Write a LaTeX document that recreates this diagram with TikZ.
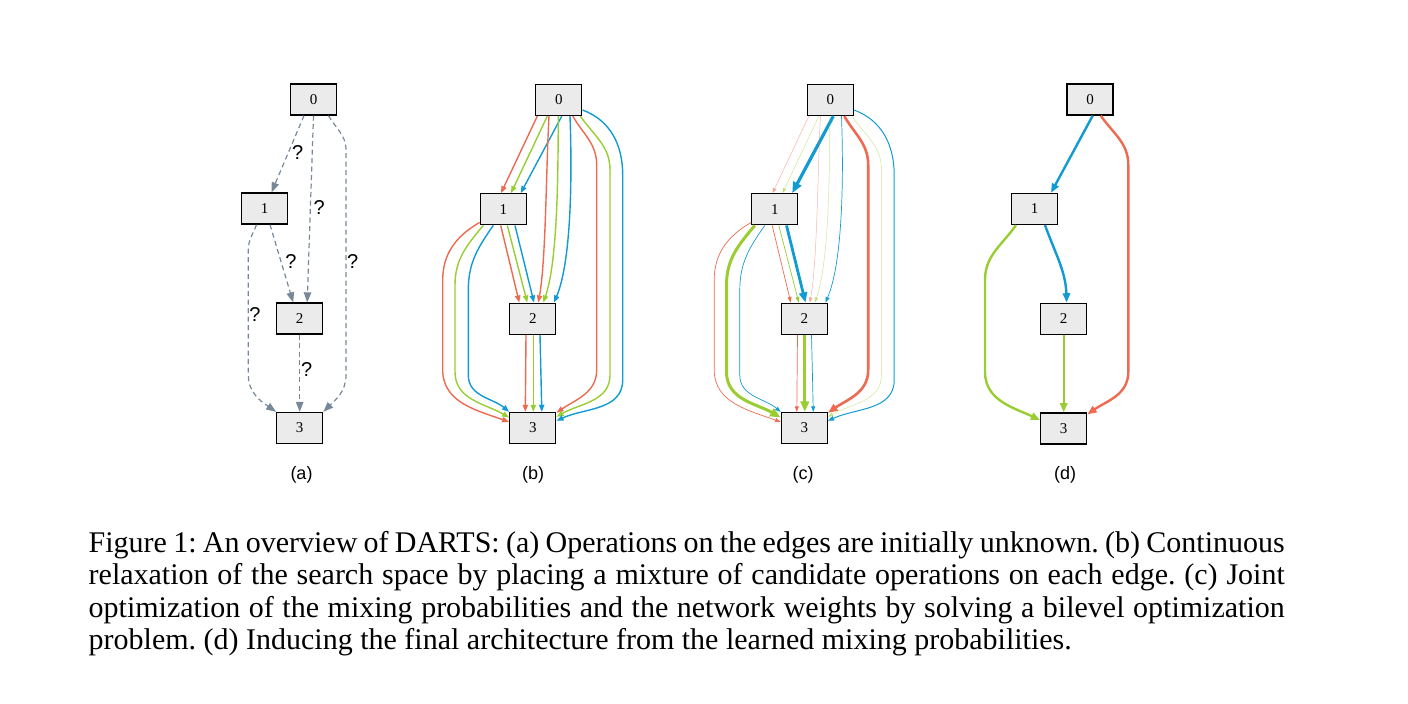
\documentclass[tikz,border=0pt]{standalone}
\usepackage{fontspec}
\setmainfont{Liberation Serif}
\setsansfont{Liberation Sans}
\usepackage{tikz}
\usetikzlibrary{arrows.meta}
\definecolor{opred}{HTML}{EE6A50}
\definecolor{opgreen}{HTML}{9ACD32}
\definecolor{opblue}{HTML}{119BD2}
\definecolor{edgegray}{HTML}{778899}
\definecolor{nodegray}{HTML}{EBEBEB}

\begin{document}
\frenchspacing
\begin{tikzpicture}[x=1pt, y=-1pt,
    box/.style={draw, line width=1.3pt, fill=nodegray, minimum width=46pt, minimum height=31pt, inner sep=0pt, font=\fontsize{15}{16}\selectfont},
    unknown/.style={edgegray, line width=1.2pt, dash pattern=on 5pt off 3.5pt, -{Triangle[length=10pt, width=7.5pt]}},
    mixed/.style={line width=1.4pt, -{Triangle[length=4pt 2.2, width=2.6pt 1.95]}},
    chosen/.style={line width=2.4pt, -{Triangle[length=4pt 2.2, width=2.6pt 1.95]}},
    faint/.style={line width=0.5pt, opacity=0.5},
    weak/.style={line width=0.7pt},
    strong/.style={line width=3pt},
    qmark/.style={font=\sffamily\fontsize{20}{20}\selectfont, inner sep=0pt},
    panel/.style={font=\sffamily\fontsize{18}{20}\selectfont, inner sep=0pt}]
\useasboundingbox (0,0) rectangle (1408,704);

% (a) unknown operations
\node[box] (a0) at (313.5,99.5) {0};
\node[box] (a1) at (264.5,208.5) {1};
\node[box] (a2) at (299.7,318.5) {2};
\node[box] (a3) at (299.7,428) {3};

\draw[unknown] ([xshift=-9.5pt]a0.south) -- ([xshift=7pt]a1.north);
\draw[unknown] (a0.south) -- ([xshift=7.5pt]a2.north);
\draw[unknown] ([xshift=15pt]a0.south) to[out=-60,in=90] (346,150) -- (346,375) to[out=-90,in=45] (a3.north east);
\draw[unknown] ([xshift=5.5pt]a1.south) -- ([xshift=-6.5pt]a2.north);
\draw[unknown] ([xshift=-8pt]a1.south) to[out=-110,in=90] (248.3,250) -- (248.3,375) to[out=-90,in=145] (a3.north west);
\draw[unknown] (a2.south) -- (a3.north);

\node[qmark] (q01) at (297.7,153) {?};
\node[qmark] (q02) at (319.3,207.7) {?};
\node[qmark] (q03) at (352.7,261.7) {?};
\node[qmark] (q12) at (291,262) {?};
\node[qmark] (q13) at (255,315) {?};
\node[qmark] (q23) at (306.7,370) {?};

% (b) mixture of candidate operations
\node[box] (b0) at (558.8,100) {0};
\node[box] (b1) at (503.3,209.3) {1};
\node[box] (b2) at (532.8,318.7) {2};
\node[box] (b3) at (532.8,428) {3};

\draw[mixed, opred] ([xshift=-21.5pt]b0.south) -- ([xshift=-2.3pt]b1.north);
\draw[mixed, opgreen] ([xshift=-11.5pt]b0.south) -- ([xshift=7.7pt]b1.north);
\draw[mixed, opblue] ([xshift=3pt]b0.south) -- ([xshift=17.4pt]b1.north);
\draw[mixed, opred] ([xshift=-9.8pt]b0.south) .. controls (546,170) and (546,260) .. ([xshift=5.5pt]b2.north);
\draw[mixed, opgreen] ([xshift=-0.5pt]b0.south) .. controls (558,170) and (558,260) .. ([xshift=10.5pt]b2.north);
\draw[mixed, opblue] ([xshift=11.2pt]b0.south) .. controls (572,170) and (572,260) .. ([xshift=21.2pt]b2.north);
\draw[mixed, opred] ([xshift=14pt]b0.south) to[out=-60,in=90] (596.7,165) -- (596.7,370) to[out=-90,in=35] ([yshift=-1pt]b3.north east);
\draw[mixed, opgreen] ([xshift=21.5pt]b0.south) to[out=-55,in=90] (610,170) -- (610,375) to[out=-90,in=30] ([yshift=-5pt]b3.north east);
\draw[mixed, opblue] ([yshift=-10pt]b0.east) to[out=-20,in=90] (622.7,175) -- (622.7,380) to[out=-90,in=25] ([yshift=-9pt]b3.north east);
\draw[mixed, opred] ([xshift=-2.6pt]b1.south) -- ([xshift=-13.5pt]b2.north);
\draw[mixed, opgreen] ([xshift=4pt]b1.south) -- ([xshift=-5.5pt]b2.north);
\draw[mixed, opblue] ([xshift=11.7pt]b1.south) -- ([xshift=1.2pt]b2.north);
\draw[mixed, opred] ([yshift=3pt]b1.south west) to[out=-150,in=90] (442.7,280) -- (442.7,370) to[out=-90,in=160] ([yshift=6pt]b3.west);
\draw[mixed, opgreen] ([xshift=-20pt]b1.south) to[out=-130,in=90] (455,285) -- (455,372) to[out=-90,in=150] ([yshift=10.5pt]b3.west);
\draw[mixed, opblue] ([xshift=-10pt]b1.south) to[out=-125,in=90] (468.3,290) -- (468.3,375) to[out=-90,in=140] (b3.north west);
\draw[mixed, opred] ([xshift=-6.8pt]b2.south) -- ([xshift=-7.5pt]b3.north);
\draw[mixed, opgreen] ([xshift=0.5pt]b2.south) -- ([xshift=0.5pt]b3.north);
\draw[mixed, opblue] ([xshift=7.2pt]b2.south) -- ([xshift=9pt]b3.north);

% (c) weighted mixture, same layout as (b)
\begin{scope}[shift={(271.5,0)}]
\node[box] (c0) at (558.8,100) {0};
\node[box] (c1) at (503.3,209.3) {1};
\node[box] (c2) at (532.8,318.7) {2};
\node[box] (c3) at (532.8,428) {3};

\draw[mixed, faint, opred] ([xshift=-21.5pt]c0.south) -- ([xshift=-2.3pt]c1.north);
\draw[mixed, faint, opgreen] ([xshift=-11.5pt]c0.south) -- ([xshift=7.7pt]c1.north);
\draw[mixed, line width=3.2pt, opblue] ([xshift=3pt]c0.south) -- ([xshift=17.4pt]c1.north);
\draw[mixed, faint, opred] ([xshift=-9.8pt]c0.south) .. controls (546,170) and (546,260) .. ([xshift=5.5pt]c2.north);
\draw[mixed, faint, opgreen] ([xshift=-0.5pt]c0.south) .. controls (558,170) and (558,260) .. ([xshift=10.5pt]c2.north);
\draw[mixed, weak, opblue] ([xshift=11.2pt]c0.south) .. controls (572,170) and (572,260) .. ([xshift=21.2pt]c2.north);
\draw[mixed, line width=2.6pt, opred] ([xshift=14pt]c0.south) to[out=-60,in=90] (596.7,165) -- (596.7,370) to[out=-90,in=35] ([yshift=-1pt]c3.north east);
\draw[mixed, faint, opgreen] ([xshift=21.5pt]c0.south) to[out=-55,in=90] (610,170) -- (610,375) to[out=-90,in=30] ([yshift=-5pt]c3.north east);
\draw[mixed, line width=1pt, opblue] ([yshift=-10pt]c0.east) to[out=-20,in=90] (622.7,175) -- (622.7,380) to[out=-90,in=25] ([yshift=-9pt]c3.north east);
\draw[mixed, weak, opred] ([xshift=-2.6pt]c1.south) -- ([xshift=-13.5pt]c2.north);
\draw[mixed, weak, opgreen] ([xshift=4pt]c1.south) -- ([xshift=-5.5pt]c2.north);
\draw[mixed, line width=2.8pt, opblue] ([xshift=11.7pt]c1.south) -- ([xshift=1.2pt]c2.north);
\draw[mixed, weak, opred] ([yshift=3pt]c1.south west) to[out=-150,in=90] (442.7,280) -- (442.7,370) to[out=-90,in=160] ([yshift=6pt]c3.west);
\draw[mixed, strong, opgreen] ([xshift=-20pt]c1.south) to[out=-130,in=90] (455,285) -- (455,372) to[out=-90,in=150] ([yshift=10.5pt]c3.west);
\draw[mixed, weak, opblue] ([xshift=-10pt]c1.south) to[out=-125,in=90] (468.3,290) -- (468.3,375) to[out=-90,in=140] (c3.north west);
\draw[mixed, weak, opred] ([xshift=-6.8pt]c2.south) -- ([xshift=-7.5pt]c3.north);
\draw[mixed, strong, opgreen] ([xshift=0.5pt]c2.south) -- ([xshift=0.5pt]c3.north);
\draw[mixed, weak, opblue] ([xshift=7.2pt]c2.south) -- ([xshift=9pt]c3.north);
\end{scope}

% (d) final architecture
\node[box] (d0) at (1090,99.5) {0};
\node[box] (d1) at (1034.5,209) {1};
\node[box] (d2) at (1063.7,318.7) {2};
\node[box] (d3) at (1063.7,428.5) {3};

\draw[chosen, opblue] ([xshift=2.7pt]d0.south) -- ([xshift=16.5pt]d1.north);
\draw[chosen, opred] ([xshift=10.7pt]d0.south) to[out=-55,in=90] (1128.3,165) -- (1128.3,372) to[out=-90,in=35] ([yshift=-2pt]d3.north east);
\draw[chosen, opblue] ([xshift=10.5pt]d1.south) to[out=-70,in=92] ([xshift=3pt]d2.north);
\draw[chosen, opgreen] ([xshift=-18.5pt]d1.south) to[out=-125,in=90] (985,280) -- (985,372) to[out=-90,in=155] ([yshift=8.5pt]d3.west);
\draw[chosen, opgreen] (d2.south) -- (d3.north);

\node[panel] (la) at (301.5,475) {(a)};
\node[panel] (lb) at (533,475) {(b)};
\node[panel] (lc) at (803,475) {(c)};
\node[panel] (ld) at (1065,475) {(d)};

\node[anchor=north west, inner sep=0pt, text width=1196pt, align=justify, font=\fontsize{30}{32.4}\selectfont] (caption) at (88.5,531)
  {Figure 1: An overview of DARTS: (a) Operations on the edges are initially unknown. (b) Continuous\linebreak relaxation of the search space by placing a mixture of candidate operations on each edge. (c) Joint\linebreak optimization of the mixing probabilities and the network weights by solving a bilevel optimization\linebreak problem. (d) Inducing the final architecture from the learned mixing probabilities.};

\end{tikzpicture}
\end{document}
